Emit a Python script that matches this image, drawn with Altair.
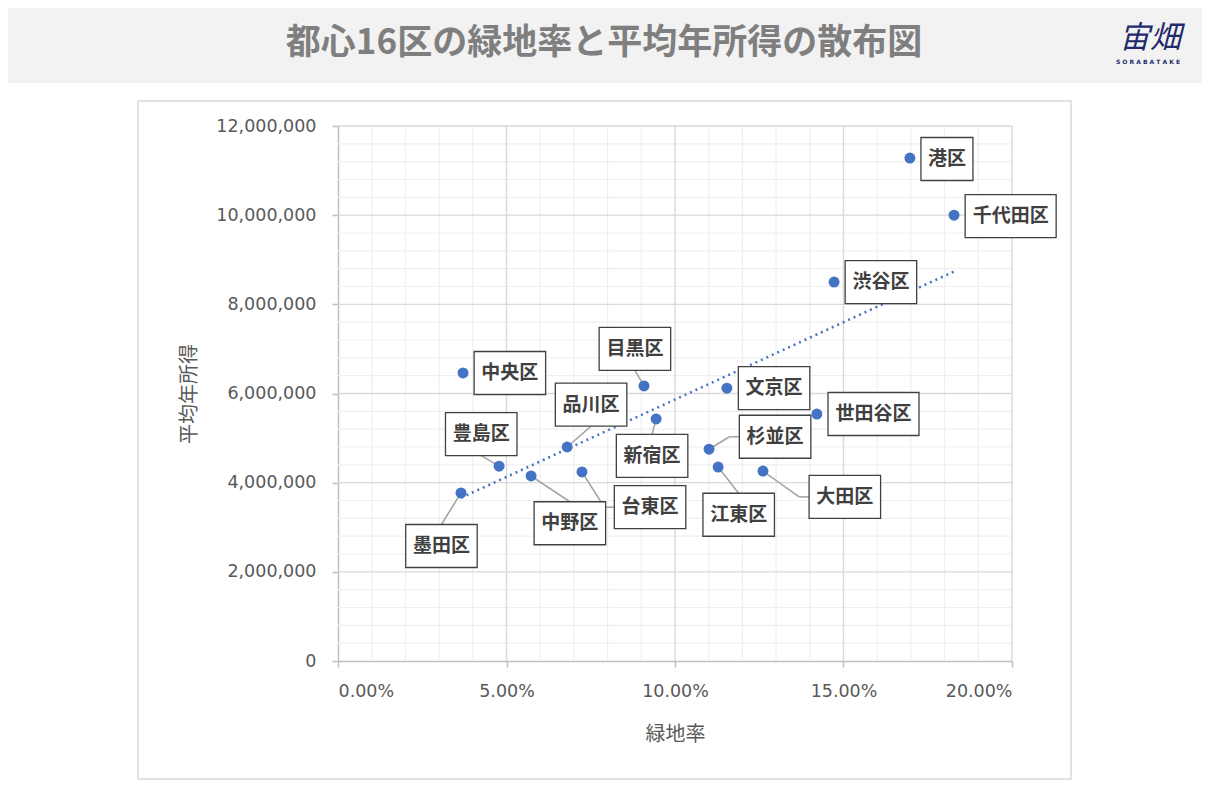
import altair as alt
import pandas as pd

# ---------------- data ----------------
districts = ["港区", "千代田区", "渋谷区", "中央区", "目黒区", "文京区", "新宿区", "世田谷区",
             "品川区", "杉並区", "豊島区", "中野区", "台東区", "江東区", "大田区", "墨田区"]
green_rate = [0.1697, 0.1828, 0.1472, 0.0371, 0.0908, 0.1154, 0.0944, 0.1421,
              0.0680, 0.1101, 0.0478, 0.0573, 0.0724, 0.1128, 0.1261, 0.0365]
income = [11280000, 10000000, 8500000, 6460000, 6170000, 6120000, 5430000, 5540000,
          4800000, 4750000, 4370000, 4150000, 4240000, 4350000, 4260000, 3770000]
# label box centres (data units), as placed in the original chart
label_x = [0.1807, 0.1996, 0.1611, 0.0510, 0.0881, 0.1294, 0.0932, 0.1589,
           0.0751, 0.1297, 0.0425, 0.0688, 0.0926, 0.1189, 0.1504, 0.0307]
label_y = [11260000, 9980000, 8500000, 6460000, 7000000, 6120000, 4600000, 5540000,
           5750000, 5030000, 5090000, 3090000, 3450000, 3280000, 3680000, 2580000]
has_leader = [False, False, False, False, True, False, True, False,
              True, True, True, True, True, True, True, True]

x_ticks = [0.0, 0.05, 0.10, 0.15, 0.20]
y_ticks = [0, 2000000, 4000000, 6000000, 8000000, 10000000, 12000000]
x_minor = [0.01, 0.02, 0.03, 0.04, 0.06, 0.07, 0.08, 0.09, 0.11, 0.12, 0.13, 0.14,
           0.16, 0.17, 0.18, 0.19]
y_minor = [400000, 800000, 1200000, 1600000, 2400000, 2800000, 3200000, 3600000,
           4400000, 4800000, 5200000, 5600000, 6400000, 6800000, 7200000, 7600000,
           8400000, 8800000, 9200000, 9600000, 10400000, 10800000, 11200000, 11600000]

title_text = "都心16区の緑地率と平均年所得の散布図"
x_title = "緑地率"
y_title = "平均年所得"

# ---------------- layout ----------------
W, H = 674, 535
XMAX, YMAX = 0.20, 12000000
KX = W / XMAX
KY = H / YMAX
FONT = "Noto Sans CJK JP"
NUMFONT = "DejaVu Sans"
BLUE = "#4472c4"
CHAR_W, PAD_W, BOX_H = 19.5, 13, 43

xs = alt.Scale(domain=[0, XMAX], nice=False, zero=False)
ys = alt.Scale(domain=[0, YMAX], nice=False, zero=False)

pts = pd.DataFrame({"name": districts, "rate": green_rate, "income": income,
                    "lx": label_x, "ly": label_y})
hw = [(CHAR_W * len(n) + PAD_W) / 2 for n in districts]
pts["bx1"] = [lx - h / KX for lx, h in zip(label_x, hw)]
pts["bx2"] = [lx + h / KX for lx, h in zip(label_x, hw)]
pts["by1"] = [ly - (BOX_H / 2) / KY for ly in label_y]
pts["by2"] = [ly + (BOX_H / 2) / KY for ly in label_y]

# leader line segments
segs = []
for i, n in enumerate(districts):
    if not has_leader[i]:
        continue
    px, py = green_rate[i], income[i]
    bx, by = label_x[i], label_y[i]
    dxp = (px - bx) * KX
    dyp = (py - by) * KY
    gh = max(0, abs(dxp) - hw[i])
    gv = max(0, abs(dyp) - BOX_H / 2)
    if gh > gv:
        s = 1 if dxp > 0 else -1
        ex = bx + s * hw[i] / KX
        elx = ex + s * 10 / KX
        segs.append({"x": ex, "y": by, "x2": elx, "y2": by})
        segs.append({"x": elx, "y": by, "x2": px, "y2": py})
    else:
        s = 1 if dyp > 0 else -1
        ey = by + s * (BOX_H / 2) / KY
        segs.append({"x": bx, "y": ey, "x2": px, "y2": py})
segs = pd.DataFrame(segs)

one = pd.DataFrame({"a": [0]})

# decorations (outside plot area, pixel positions relative to plot origin)
band = alt.Chart(one).mark_rect(color="#f2f2f2").encode(
    x=alt.value(-340), x2=alt.value(880), y=alt.value(-130), y2=alt.value(-43))
frame = alt.Chart(one).mark_rect(fillOpacity=0, stroke="#d9d9d9", strokeWidth=1.5).encode(
    x=alt.value(-200), x2=alt.value(733), y=alt.value(-25), y2=alt.value(653))
title = alt.Chart(one).mark_text(font=FONT, fontSize=35, fontWeight="bold",
                                 color="#7f7f7f", align="center", baseline="middle").encode(
    x=alt.value(266), y=alt.value(-83), text=alt.value(title_text))
logo = alt.Chart(one).mark_text(font=FONT, fontSize=31, fontStyle="italic",
                                color="#1f2b6b", align="center", baseline="middle").encode(
    x=alt.value(812), y=alt.value(-87), text=alt.value("宙畑"))
logo_sub = alt.Chart(one).mark_text(font=NUMFONT, fontSize=6, fontWeight="bold",
                                    color="#1f2b6b", align="center", baseline="middle").encode(
    x=alt.value(810), y=alt.value(-64), text=alt.value("S O R A B A T A K E"))

# grid
gx_minor = alt.Chart(pd.DataFrame({"v": x_minor})).mark_rule(color="#efefef", strokeWidth=1.2).encode(
    x=alt.X("v:Q", scale=xs), y=alt.value(0), y2=alt.value(H))
gy_minor = alt.Chart(pd.DataFrame({"v": y_minor})).mark_rule(color="#efefef", strokeWidth=1.2).encode(
    y=alt.Y("v:Q", scale=ys), x=alt.value(0), x2=alt.value(W))
gx_major = alt.Chart(pd.DataFrame({"v": x_ticks[1:]})).mark_rule(color="#d9d9d9", strokeWidth=1.4).encode(
    x=alt.X("v:Q", scale=xs), y=alt.value(0), y2=alt.value(H))
gy_major = alt.Chart(pd.DataFrame({"v": y_ticks[1:]})).mark_rule(color="#d9d9d9", strokeWidth=1.4).encode(
    y=alt.Y("v:Q", scale=ys), x=alt.value(0), x2=alt.value(W))

axis_common = dict(grid=False, tickSize=6, tickColor="#bfbfbf", tickWidth=1.5,
                   domainColor="#bfbfbf", domainWidth=1.5,
                   labelFont=NUMFONT, labelFontSize=17.5, labelColor="#595959",
                   titleFont=FONT, titleFontSize=20, titleFontWeight="normal",
                   titleColor="#595959")

base = alt.Chart(pts)
points = base.mark_circle(size=120, color=BLUE, opacity=1).encode(
    x=alt.X("rate:Q", scale=xs,
            axis=alt.Axis(values=x_ticks, format=".2%", title=x_title,
                          labelPadding=15, titlePadding=25, **axis_common)),
    y=alt.Y("income:Q", scale=ys,
            axis=alt.Axis(values=y_ticks, format=",d", title=y_title,
                          labelPadding=16, titlePadding=16, **axis_common)),
)
trend = base.transform_regression("rate", "income").mark_line(
    color=BLUE, strokeWidth=2.5, strokeDash=[2, 4]).encode(
    x=alt.X("rate:Q", scale=xs), y=alt.Y("income:Q", scale=ys))
leaders = alt.Chart(segs).mark_rule(color="#a6a6a6", strokeWidth=1.6).encode(
    x=alt.X("x:Q", scale=xs), x2="x2:Q", y=alt.Y("y:Q", scale=ys), y2="y2:Q")
boxes = base.mark_rect(fill="white", stroke="#404040", strokeWidth=1.3).encode(
    x=alt.X("bx1:Q", scale=xs), x2="bx2:Q", y=alt.Y("by1:Q", scale=ys), y2="by2:Q")
texts = base.mark_text(font=FONT, fontSize=19, fontWeight="bold", color="#404040",
                       align="center", baseline="middle").encode(
    x=alt.X("lx:Q", scale=xs), y=alt.Y("ly:Q", scale=ys), text="name:N")

chart = alt.layer(
    band, frame, title, logo, logo_sub,
    gx_minor, gy_minor, gx_major, gy_major,
    trend, leaders, points, boxes, texts,
).properties(
    width=W, height=H,
    autosize=alt.AutoSizeParams(type="none"),
    padding={"left": 330, "top": 118, "right": 190, "bottom": 136},
    background="white",
).configure_view(stroke=None)

chart.save("out.html", embed_options={"renderer": "svg", "actions": False})
